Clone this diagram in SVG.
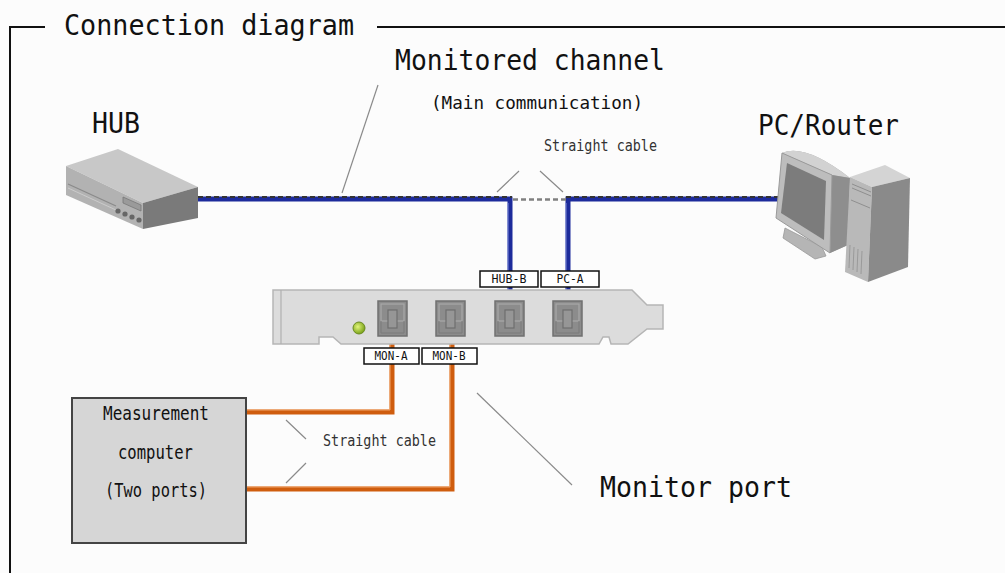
<svg xmlns="http://www.w3.org/2000/svg" width="1005" height="573" viewBox="0 0 1005 573">
<style>
text{font-family:"DejaVu Sans Mono","Liberation Mono",monospace;fill:#111}
.big{font-size:29px}
.mid{font-size:19px}
.sub{font-size:17px}
.sm{font-size:15px;fill:#333}
.tag{font-size:12px}
.frame{stroke:#111;stroke-width:2;fill:none}
.lead{stroke:#8a8a8a;stroke-width:1.2;fill:none}
.blue{stroke:#1d2b9b;stroke-width:5;fill:none;stroke-linejoin:miter}
.bhi{stroke:#7d8ad8;stroke-width:1;fill:none}
.bdash{stroke:#333;stroke-width:2;stroke-dasharray:5 3;fill:none}
.gap{stroke:#808080;stroke-width:2.6;stroke-dasharray:5 3;fill:none}
.orange{stroke:#cf5d0e;stroke-width:5;fill:none;stroke-linejoin:miter}
.ohi{stroke:#f2a66a;stroke-width:1;fill:none}
.box{fill:#fff;stroke:#111;stroke-width:1.5}
</style>
<defs>
<g id="port">
<rect x="0" y="0" width="29" height="35" fill="#8c8c8c" stroke="#707070" stroke-width="1.5"/>
<rect x="3" y="3" width="23" height="17" fill="none" stroke="#a8a8a8" stroke-width="1.2"/>
<path d="M3,20 V32 H26 V20" fill="none" stroke="#7a7a7a" stroke-width="1"/>
<rect x="10" y="9" width="9" height="18" fill="#969696" stroke="#6e6e6e" stroke-width="1.2"/>
</g>
<radialGradient id="led" cx="0.4" cy="0.4" r="0.6">
<stop offset="0" stop-color="#e2f57a"/>
<stop offset="1" stop-color="#7aa21a"/>
</radialGradient>
</defs>
<rect x="0" y="0" width="1005" height="573" fill="#fcfcfc"/>

<g id="frame">
<path class="frame" d="M45,27 H10 V573"/>
<path class="frame" d="M377,27 H1005"/>
<text class="big" x="64" y="35" textLength="290" lengthAdjust="spacingAndGlyphs">Connection diagram</text>
</g>

<g id="connectors">
<path class="lead" d="M378,85 L342,193"/>
<path class="lead" d="M519,171 L497,192 M540,171 L563,192"/>
<path class="lead" d="M286,420 L306,439 M286,483 L306,463"/>
<path class="lead" d="M477,393 L572,485"/>
<path class="blue" d="M198,199 H510 V290"/>
<path class="bhi" d="M508,203 V290"/>
<path class="bdash" d="M198,197 H512"/>
<path class="blue" d="M780,199 H568 V290"/>
<path class="bhi" d="M566,203 V290"/>
<path class="bdash" d="M566,197 H780"/>
<path class="gap" d="M513,199.5 H566"/>
<path class="orange" d="M246,412 H392 V344"/>
<path class="ohi" d="M246,410 H390 V344"/>
<path class="orange" d="M246,489 H452 V344"/>
<path class="ohi" d="M246,487 H450 V344"/>
</g>

<g id="hub">
<polygon points="66,166 118,149 198,187 143,203" fill="#c8c8c8"/>
<polygon points="66,166 143,203 143,229 66,195" fill="#b2b2b2"/>
<polygon points="143,203 198,187 198,218 143,229" fill="#7a7a7a"/>
<path d="M68,184 L116,206" stroke="#8a8a8a" stroke-width="1.2"/>
<path d="M68,188 L116,210" stroke="#d0d0d0" stroke-width="0.8"/>
<polygon points="123,197 141,205 141,211 123,203" fill="#9a9a9a" stroke="#777" stroke-width="0.8"/>
<circle cx="118" cy="211" r="2.6" fill="#666"/>
<circle cx="125" cy="214" r="2.6" fill="#666"/>
<circle cx="132" cy="217" r="2.6" fill="#666"/>
<circle cx="139" cy="220" r="2.6" fill="#666"/>
<text class="big" x="92" y="133" textLength="48" lengthAdjust="spacingAndGlyphs">HUB</text>
</g>

<g id="pc">
<path d="M782,153 Q805,143 850,178 L848,245 L830,253 Z" fill="#a9a9a9"/>
<path d="M782,153 Q805,143 850,178 L832,175 Z" fill="#d2d2d2"/>
<polygon points="832,175 850,178 848,245 830,253" fill="#8e8e8e"/>
<polygon points="785,228 822,247 826,256 815,259 783,238" fill="#b5b5b5" stroke="#999" stroke-width="0.8"/>
<polygon points="782,153 832,175 830,253 776,218" fill="#bdbdbd" stroke="#9a9a9a" stroke-width="1"/>
<polygon points="787,163 826,181 824,240 781,213" fill="#7c7c7c"/>
<polygon points="850,177 885,165 910,178 872,187" fill="#d4d4d4"/>
<polygon points="850,177 872,187 868,282 845,272" fill="#b9b9b9"/>
<polygon points="872,187 910,178 908,267 868,282" fill="#8a8a8a"/>
<path d="M852,184 L871,192 M852,188 L871,196 M851,200 L870,208" stroke="#8f8f8f" stroke-width="1"/>
<path d="M850,245 L849,268 M854,247 L853,270 M858,249 L857,272 M862,251 L861,274" stroke="#9a9a9a" stroke-width="1"/>
<text class="big" x="758" y="135" textLength="141" lengthAdjust="spacingAndGlyphs">PC/Router</text>
</g>

<g id="card">
<path d="M273,290 L632,290 L647,305 L663,305 L663,329 L647,329 L628,344 L611,344 L609,337 L603,337 L599,344 L341,344 L333,337 L319,337 L319,344 L273,344 Z" fill="#dcdcdc" stroke="#b5b5b5" stroke-width="1.5"/>
<path d="M281,290 V344" stroke="#b0b0b0" stroke-width="1.2"/>
<circle cx="359" cy="328" r="6" fill="url(#led)" stroke="#6a8a20" stroke-width="1"/>
<use href="#port" x="378" y="301"/>
<use href="#port" x="436" y="301"/>
<use href="#port" x="495" y="301"/>
<use href="#port" x="553" y="301"/>
</g>

<g id="port-labels">
<rect class="box" x="480" y="271" width="58" height="16"/>
<text class="tag" x="509" y="283" text-anchor="middle" textLength="35" lengthAdjust="spacingAndGlyphs">HUB-B</text>
<rect class="box" x="541" y="271" width="58" height="16"/>
<text class="tag" x="570" y="283" text-anchor="middle" textLength="27" lengthAdjust="spacingAndGlyphs">PC-A</text>
<rect class="box" x="364" y="348" width="55" height="16"/>
<text class="tag" x="391" y="360" text-anchor="middle" textLength="33" lengthAdjust="spacingAndGlyphs">MON-A</text>
<rect class="box" x="422" y="348" width="55" height="16"/>
<text class="tag" x="449" y="360" text-anchor="middle" textLength="33" lengthAdjust="spacingAndGlyphs">MON-B</text>
</g>

<g id="measurement">
<rect x="72" y="398" width="174" height="145" fill="#d6d6d6" stroke="#444" stroke-width="2"/>
<text class="mid" x="103" y="420" textLength="106" lengthAdjust="spacingAndGlyphs">Measurement</text>
<text class="mid" x="118" y="459" textLength="75" lengthAdjust="spacingAndGlyphs">computer</text>
<text class="mid" x="105" y="497" textLength="102" lengthAdjust="spacingAndGlyphs">(Two ports)</text>
</g>

<g id="labels">
<text class="big" x="395" y="70" textLength="270" lengthAdjust="spacingAndGlyphs">Monitored channel</text>
<text class="sub" x="431" y="109" textLength="212" lengthAdjust="spacingAndGlyphs">(Main communication)</text>
<text class="sm" x="544" y="151" textLength="113" lengthAdjust="spacingAndGlyphs">Straight cable</text>
<text class="sm" x="323" y="446" textLength="113" lengthAdjust="spacingAndGlyphs">Straight cable</text>
<text class="big" x="600" y="497" textLength="192" lengthAdjust="spacingAndGlyphs">Monitor port</text>
</g>
</svg>
